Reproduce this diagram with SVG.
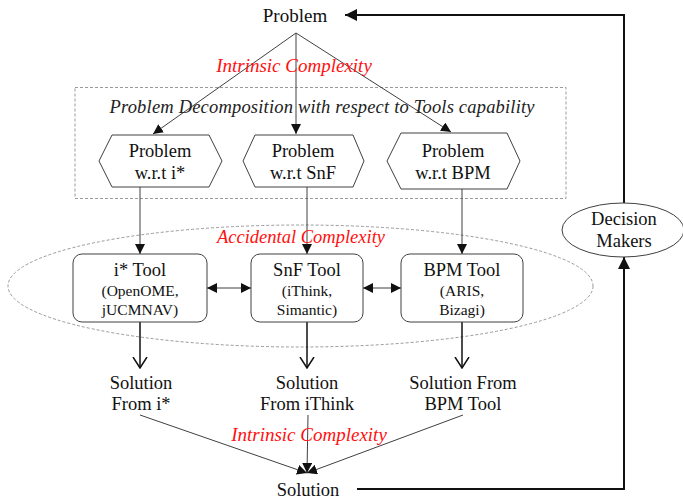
<svg xmlns="http://www.w3.org/2000/svg" width="683" height="500" viewBox="0 0 683 500">
  <style>
    text { font-family: "Liberation Serif", "Times New Roman", serif; fill: #111; text-anchor: middle; }
    .big { font-size: 18.5px; }
    .sub { font-size: 15.5px; }
    .red { fill: #ff1010; font-style: italic; font-size: 19px; }
    .ital { font-style: italic; font-size: 18.5px; fill: #222; }
    .shape { fill: #fff; stroke: #404040; stroke-width: 1; }
    .dash { fill: none; stroke: #9a9a9a; stroke-width: 1; stroke-dasharray: 3 2; }
    .thin { fill: none; stroke: #404040; stroke-width: 1; }
    .thick { fill: none; stroke: #111; stroke-width: 2; }
    .mid { fill: none; stroke: #111; stroke-width: 1.5; }
  </style>
  <defs>
    <marker id="tri" viewBox="0 0 10 10" refX="10" refY="5" markerWidth="10" markerHeight="10" markerUnits="userSpaceOnUse" orient="auto-start-reverse">
      <path d="M0,0 L10,5 L0,10 z" fill="#111"/>
    </marker>
    <marker id="triBig" viewBox="0 0 10 10" refX="10" refY="5" markerWidth="12" markerHeight="12" markerUnits="userSpaceOnUse" orient="auto">
      <path d="M0,0 L10,5 L0,10 z" fill="#111"/>
    </marker>
    <marker id="vee" viewBox="0 0 12 16" refX="11" refY="8" markerWidth="12" markerHeight="16" markerUnits="userSpaceOnUse" orient="auto">
      <path d="M0,1 L11,8 L0,15" fill="none" stroke="#111" stroke-width="1.5"/>
    </marker>
  </defs>

  <!-- grouping outlines -->
  <rect class="dash" x="75" y="87.5" width="491" height="111"/>
  <ellipse class="dash" cx="300.5" cy="286" rx="292.5" ry="61"/>

  <!-- connectors -->
  <g id="connectors">
    <line class="thin" x1="296" y1="33" x2="153" y2="134" marker-end="url(#tri)"/>
    <line class="thin" x1="296" y1="33" x2="296" y2="134" marker-end="url(#tri)"/>
    <line class="thin" x1="296" y1="33" x2="451" y2="132" marker-end="url(#tri)"/>

    <line class="thin" x1="140" y1="187" x2="140" y2="254" marker-end="url(#tri)"/>
    <line class="thin" x1="307" y1="187" x2="307" y2="254" marker-end="url(#tri)"/>
    <line class="thin" x1="462" y1="189" x2="462" y2="254" marker-end="url(#tri)"/>

    <line class="thin" x1="207" y1="288" x2="251" y2="288" marker-start="url(#tri)" marker-end="url(#tri)"/>
    <line class="thin" x1="363" y1="288" x2="401" y2="288" marker-start="url(#tri)" marker-end="url(#tri)"/>

    <line class="mid" x1="140" y1="322" x2="140" y2="368" marker-end="url(#vee)"/>
    <line class="mid" x1="307" y1="322" x2="307" y2="368" marker-end="url(#vee)"/>
    <line class="mid" x1="462" y1="322" x2="462" y2="368" marker-end="url(#vee)"/>

    <line class="thin" x1="140" y1="415" x2="307" y2="473" marker-end="url(#tri)"/>
    <line class="thin" x1="308" y1="415" x2="307" y2="473" marker-end="url(#tri)"/>
    <line class="thin" x1="463" y1="415" x2="307" y2="473" marker-end="url(#tri)"/>

    <polyline class="thick" points="357,489 624,489 624,257" marker-end="url(#triBig)"/>
    <polyline class="thick" points="624,203 624,15 345,15" marker-end="url(#triBig)"/>
  </g>

  <!-- labels -->
  <text class="red" x="294" y="72">Intrinsic Complexity</text>
  <text class="ital" x="322" y="113" textLength="425" lengthAdjust="spacing">Problem  Decomposition with respect to Tools capability</text>
  <text class="red" x="301" y="243" style="font-size:18.5px">Accidental Complexity</text>
  <text class="red" x="309" y="441">Intrinsic Complexity</text>

  <g id="problem">
    <text class="big" x="295" y="22" style="font-size:19px">Problem</text>
  </g>

  <g id="problem-istar">
    <polygon class="shape" points="99,161 112,135 209,135 222,161 209,187 112,187"/>
    <text class="big" x="160" y="157">Problem</text>
    <text class="big" x="160" y="179">w.r.t i*</text>
  </g>
  <g id="problem-snf">
    <polygon class="shape" points="243,161 255,135 353,135 364,161 353,187 255,187"/>
    <text class="big" x="303" y="157">Problem</text>
    <text class="big" x="303" y="179">w.r.t SnF</text>
  </g>
  <g id="problem-bpm">
    <polygon class="shape" points="387,161 401,133 507,133 520,161 507,189 401,189"/>
    <text class="big" x="453" y="157">Problem</text>
    <text class="big" x="453" y="179">w.r.t BPM</text>
  </g>

  <g id="tool-istar">
    <rect class="shape" x="73" y="254" width="134" height="68" rx="9"/>
    <text class="big" x="140" y="276">i* Tool</text>
    <text class="sub" x="140" y="296">(OpenOME,</text>
    <text class="sub" x="140" y="315">jUCMNAV)</text>
  </g>
  <g id="tool-snf">
    <rect class="shape" x="251" y="254" width="112" height="68" rx="9"/>
    <text class="big" x="307" y="276">SnF Tool</text>
    <text class="sub" x="307" y="296">(iThink,</text>
    <text class="sub" x="307" y="315">Simantic)</text>
  </g>
  <g id="tool-bpm">
    <rect class="shape" x="401" y="254" width="122" height="68" rx="9"/>
    <text class="big" x="462" y="276">BPM Tool</text>
    <text class="sub" x="462" y="296">(ARIS,</text>
    <text class="sub" x="462" y="315">Bizagi)</text>
  </g>

  <g id="solution-istar">
    <text class="big" x="141" y="389">Solution</text>
    <text class="big" x="141" y="410">From i*</text>
  </g>
  <g id="solution-ithink">
    <text class="big" x="307" y="389">Solution</text>
    <text class="big" x="307" y="410">From iThink</text>
  </g>
  <g id="solution-bpm">
    <text class="big" x="463" y="389">Solution From</text>
    <text class="big" x="463" y="410">BPM Tool</text>
  </g>

  <g id="solution">
    <text class="big" x="308" y="496">Solution</text>
  </g>

  <g id="decision-makers">
    <ellipse class="shape" cx="623" cy="230" rx="61" ry="27"/>
    <text class="big" x="624" y="225">Decision</text>
    <text class="big" x="624" y="247">Makers</text>
  </g>
</svg>
